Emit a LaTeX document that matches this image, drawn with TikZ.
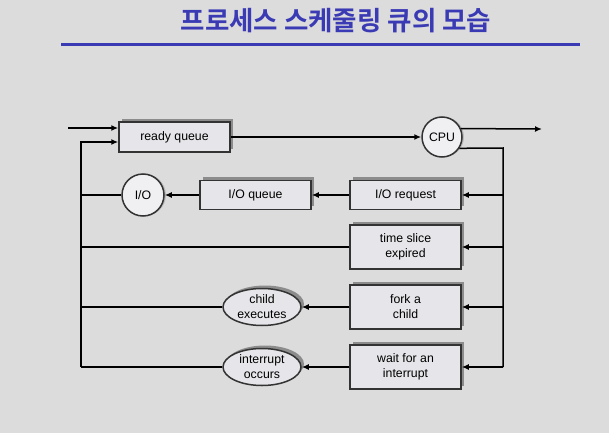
\documentclass[tikz,border=0pt]{standalone}
\usepackage{fontspec}
\setmainfont{Liberation Sans}
\newfontfamily\krfont{Noto Sans CJK KR Bold}
\usetikzlibrary{arrows.meta, shapes.geometric, shadows}

\definecolor{slidebg}{HTML}{DCDCDC}
\definecolor{titleblue}{HTML}{3A3AB4}
\definecolor{boxfill}{HTML}{E6E6EA}
\definecolor{shadowgray}{HTML}{8C8C8C}

\tikzset{
    qbox/.style={draw=black!80, fill=boxfill, line width=1.5pt,
        minimum width=111pt, minimum height=29pt, align=center,
        copy shadow={shadow xshift=3pt, shadow yshift=3.5pt, fill=shadowgray, draw=none}},
    unitcirc/.style={circle, draw=black!80, fill=boxfill!60!white, line width=1.5pt,
        inner sep=0pt, copy shadow={shadow xshift=2pt, shadow yshift=0pt, fill=shadowgray!60, draw=none}},
    evtell/.style={ellipse, draw=black!80, fill=boxfill, line width=1.5pt,
        inner sep=0pt, minimum width=78pt, minimum height=37pt, align=center,
        copy shadow={shadow xshift=3pt, shadow yshift=3pt, fill=shadowgray, draw=none}},
    arr/.style={-{Latex[length=7pt, width=6pt]}},
}

\begin{document}
\begin{tikzpicture}[x=1pt, y=-1pt, line width=1.5pt, font=\fontsize{12.3}{15}\selectfont]

    \fill [slidebg] (0,0) rectangle (609,433);
    \useasboundingbox (0,0) rectangle (609,433);

    % --- 1. Title ---
    \node [text=titleblue, font=\krfont\fontsize{26.5}{30}\selectfont] (title) at (336,21) {프로세스 스케줄링 큐의 모습};
    \draw [titleblue, line width=3pt] (61,45) -- (580,45);

    % --- 2. Ready queue and CPU ---
    \node [qbox, minimum height=30pt] (ready) at (174.5,137) {ready queue};
    \node [unitcirc, minimum size=40pt] (cpu) at (442,137) {CPU};
    \coordinate (entry) at (68,128);
    \coordinate (exit) at (542,129);

    % --- 3. Queues fed by the CPU ---
    \node [qbox] (ioreq) at (405.5,195) {I/O request};
    \node [qbox] (ioq) at (255.5,195) {I/O queue};
    \node [unitcirc, minimum size=42pt] (io) at (143,195) {I/O};
    \node [qbox, minimum height=44pt] (slice) at (405.5,247) {time slice\\expired};
    \node [qbox, minimum height=44pt] (fork) at (405.5,307) {fork a\\child};
    \node [evtell] (child) at (262,307) {child\\executes};
    \node [qbox, minimum height=44pt] (wait) at (405.5,367) {wait for an\\interrupt};
    \node [evtell] (intr) at (262,367) {interrupt\\occurs};

    % right and left return lines
    \coordinate (rtop) at (503,148);
    \coordinate (rbot) at (503,367);
    \coordinate (ltop) at (81,142);
    \coordinate (lbot) at (81,367);

    % --- 4. Connectors ---
    \draw [arr] (entry) -- (ready.west |- entry);
    \draw [arr] (ready) -- (cpu);
    \draw [arr] (cpu.24) -- (exit);
    \draw (cpu.-33) -- (rtop) -- (rbot);

    \draw [arr] (ioreq.east -| rtop) -- (ioreq.east);
    \draw [arr] (slice.east -| rtop) -- (slice.east);
    \draw [arr] (fork.east -| rtop) -- (fork.east);
    \draw [arr] (rbot) -- (wait.east);

    \draw [arr] (ioreq) -- (ioq);
    \draw [arr] (ioq) -- (io);
    \draw [arr] (fork) -- (child);
    \draw [arr] (wait) -- (intr);

    \draw (io.west) -- (io.west -| ltop);
    \draw (slice.west) -- (slice.west -| ltop);
    \draw (child.west) -- (child.west -| ltop);
    \draw (intr.west) -- (lbot);
    \draw [arr] (lbot) -- (ltop) -- (ready.west |- ltop);

\end{tikzpicture}
\end{document}
